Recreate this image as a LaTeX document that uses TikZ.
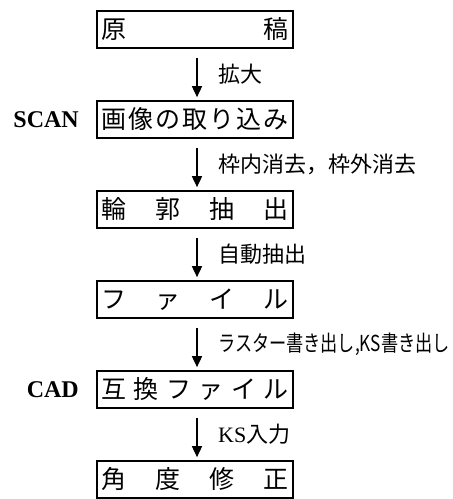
\documentclass[tikz,border=0pt]{standalone}
\usepackage{fontspec}
\setmainfont{Liberation Serif}
\newfontfamily\jp{Noto Sans CJK JP}
\usetikzlibrary{arrows.meta}
\newcommand{\spr}[1]{\makebox[188pt][s]{#1}}
\begin{document}
\begin{tikzpicture}[x=1pt,y=-1pt,
  boxnode/.style={draw,line width=1.7pt,minimum width=196pt,minimum height=37pt,inner sep=0pt,font=\jp\fontsize{25}{25}\selectfont},
  flow/.style={line width=1.7pt,-{Triangle[width=10pt,length=11pt]}},
  lbl/.style={anchor=west,inner sep=0pt,font=\jp\fontsize{22}{22}\selectfont},
  side/.style={anchor=east,inner sep=0pt,font=\bfseries\fontsize{24}{24}\selectfont}]
\useasboundingbox (0,0) rectangle (453,499);
\node[boxnode] (b1) at (195,29.5) {\spr{原\hfill{}稿}};
\node[boxnode] (b2) at (195,119.5) {\spr{画\hfill{}像\hfill{}の\hfill{}取\hfill{}り\hfill{}込\hfill{}み}};
\node[boxnode] (b3) at (195,209.5) {\spr{輪\hfill{}郭\hfill{}抽\hfill{}出}};
\node[boxnode] (b4) at (195,299.5) {\spr{フ\hfill{}ァ\hfill{}イ\hfill{}ル}};
\node[boxnode] (b5) at (195,389.5) {\spr{互\hfill{}換\hfill{}フ\hfill{}ァ\hfill{}イ\hfill{}ル}};
\node[boxnode] (b6) at (195,479.5) {\spr{角\hfill{}度\hfill{}修\hfill{}正}};
\node[side] (scan) at (79,119.5) {SCAN};
\node[side] (cad) at (79,389.5) {CAD};
\foreach \a/\b in {b1/b2,b2/b3,b3/b4,b4/b5,b5/b6}{
  \draw[flow] ([xshift=2pt,yshift=-9pt]\a.south) -- ([xshift=2pt,yshift=3pt]\b.north);
}
\node[lbl] (l1) at (218,74.5) {拡大};
\node[lbl] (l2) at (218,164.5) {枠内消去，枠外消去};
\node[lbl] (l3) at (218,254.5) {自動抽出};
\node[lbl] (l4) at (218,344.5) {\scalebox{0.78}[1]{ラスター書き出し,KS書き出し}};
\node[lbl] (l5) at (218,434.5) {{\rmfamily KS}入力};
\end{tikzpicture}
\end{document}
